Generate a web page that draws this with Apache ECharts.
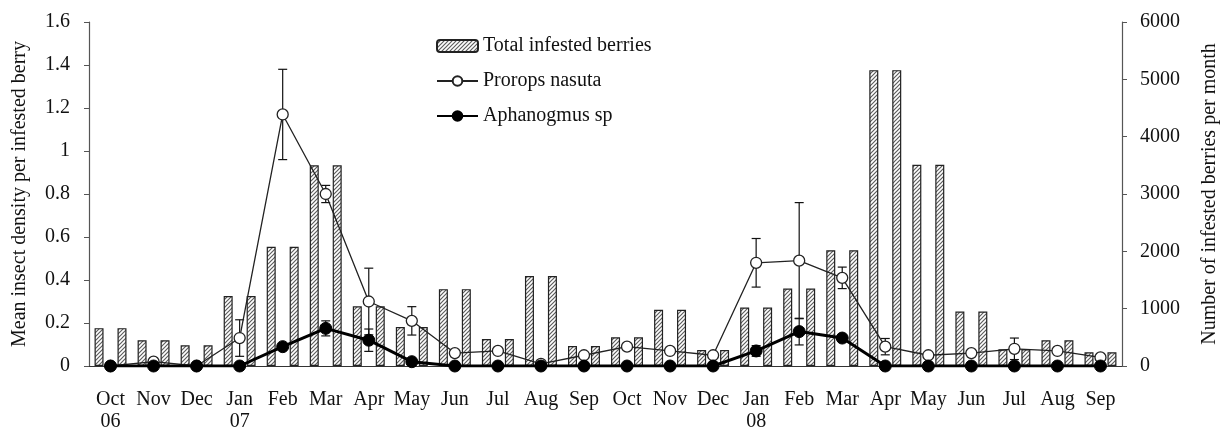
<!DOCTYPE html>
<html>
<head>
<meta charset="utf-8">
<script src="https://cdn.jsdelivr.net/npm/echarts@6/dist/echarts.min.js"></script>
<style>
html,body{margin:0;padding:0;background:#fff;}
#chart{width:1220px;height:430px;}
</style>
</head>
<body>
<div id="chart"></div>
<script>
// ---- data ----
const months = ['Oct\n06','Nov','Dec','Jan\n07','Feb','Mar','Apr','May','Jun','Jul','Aug','Sep',
                'Oct','Nov','Dec','Jan\n08','Feb','Mar','Apr','May','Jun','Jul','Aug','Sep'];
const totalBerries = [660,450,360,1220,2080,3500,1040,680,1340,470,1570,350,
                      500,980,280,1020,1350,2020,5160,3510,950,290,450,240];
const prorops = [0,0.02,0,0.13,1.17,0.80,0.30,0.21,0.06,0.07,0.01,0.05,
                 0.09,0.07,0.05,0.48,0.49,0.41,0.09,0.05,0.06,0.08,0.07,0.04];
const proropsErr = [0,0,0,0.085,0.21,0.04,0.155,0.066,0,0,0,0,
                    0,0,0,0.113,0.27,0.05,0.038,0,0,0.05,0,0];
const aphanogmus = [0,0,0,0,0.09,0.175,0.12,0.02,0,0,0,0,
                    0,0,0,0.07,0.16,0.13,0,0,0,0,0,0];
const aphanogmusErr = [0,0,0,0,0,0.035,0.052,0,0,0,0,0,
                       0,0,0,0.025,0.062,0,0,0,0,0,0,0];
const leftTicks = {min:0, max:1.6, interval:0.2};
const rightTicks = {min:0, max:6000, interval:1000};

// ---- hatch pattern ----
function hatch(){
  const c = document.createElement('canvas');
  const s = 4;
  c.width = s; c.height = s;
  const g = c.getContext('2d');
  g.fillStyle = '#fff'; g.fillRect(0,0,s,s);
  g.strokeStyle = '#5e5e5e'; g.lineWidth = 1.2;
  g.beginPath();
  g.moveTo(0,s); g.lineTo(s,0);
  g.moveTo(-1,1); g.lineTo(1,-1);
  g.moveTo(s-1,s+1); g.lineTo(s+1,s-1);
  g.stroke();
  return c;
}
const hatchFill = {image: hatch(), repeat: 'repeat'};

function errData(vals, errs){
  const out = [];
  vals.forEach((v,i)=>{ if(errs[i]>0) out.push([i, v-errs[i], v+errs[i]]); });
  return out;
}
function errRender(params, api){
  const x = api.coord([api.value(0), api.value(1)]);
  const y2 = api.coord([api.value(0), api.value(2)]);
  const w = 4.5;
  const st = {stroke:'#111', lineWidth:1.2};
  return {type:'group', children:[
    {type:'line', shape:{x1:x[0],y1:x[1],x2:y2[0],y2:y2[1]}, style:st},
    {type:'line', shape:{x1:x[0]-w,y1:x[1],x2:x[0]+w,y2:x[1]}, style:st},
    {type:'line', shape:{x1:y2[0]-w,y1:y2[1],x2:y2[0]+w,y2:y2[1]}, style:st}
  ]};
}

const FONT = 'Liberation Serif';
const axisCol = '#555';
const chart = echarts.init(document.getElementById('chart'));
chart.setOption({
  animation:false,
  backgroundColor:'#fff',
  textStyle:{fontFamily:FONT, color:'#111'},
  grid:{left:89, right:98, top:22, bottom:64, outerBoundsMode:'none', containLabel:false},
  legend:{
    orient:'vertical', left:431, top:31,
    itemWidth:41, itemHeight:12, itemGap:15,
    textStyle:{fontFamily:FONT, fontSize:20, color:'#111'},
    data:['Total infested berries','Prorops nasuta','Aphanogmus sp']
  },
  xAxis:{
    type:'category', data:months,
    axisLine:{lineStyle:{color:'#333', width:1.2}},
    axisTick:{interval:0, length:6, lineStyle:{color:axisCol}},
    axisLabel:{interval:0, fontSize:20, lineHeight:22, margin:23, color:'#111', fontFamily:FONT}
  },
  yAxis:[{
    type:'value', min:leftTicks.min, max:leftTicks.max, interval:leftTicks.interval,
    name:'Mean insect density per infested berry', nameLocation:'middle', nameGap:59,
    nameTextStyle:{fontSize:20, fontFamily:FONT, color:'#111'},
    axisLine:{show:true, lineStyle:{color:axisCol, width:1.2}},
    axisTick:{show:true, length:5, lineStyle:{color:axisCol}},
    axisLabel:{fontSize:20, margin:19, color:'#111', fontFamily:FONT},
    splitLine:{show:false}
  },{
    type:'value', min:rightTicks.min, max:rightTicks.max, interval:rightTicks.interval,
    name:'Number of infested berries per month', nameLocation:'middle', nameGap:78,
    nameTextStyle:{fontSize:20, fontFamily:FONT, color:'#111'},
    axisLine:{show:true, lineStyle:{color:axisCol, width:1.2}},
    axisTick:{show:true, length:5, lineStyle:{color:axisCol}},
    axisLabel:{fontSize:20, margin:18, color:'#111', fontFamily:FONT,
               formatter:function(v){return String(v);}},
    splitLine:{show:false}
  }],
  series:[
    {name:'Total infested berries', type:'bar', yAxisIndex:1, data:totalBerries,
     barWidth:9, barGap:'155%', z:1,
     itemStyle:{color:hatchFill, borderColor:'#222', borderWidth:1.2}},
    {name:'Total infested berries', type:'bar', yAxisIndex:1, data:totalBerries,
     barWidth:9, barGap:'155%', z:1,
     itemStyle:{color:hatchFill, borderColor:'#222', borderWidth:1.2}},
    {name:'Prorops err', type:'custom', yAxisIndex:0, data:errData(prorops, proropsErr),
     renderItem:errRender, z:2, silent:true},
    {name:'Prorops nasuta', type:'line', yAxisIndex:0, data:prorops, z:3,
     symbol:'circle', symbolSize:11,
     lineStyle:{color:'#222', width:1.3},
     itemStyle:{color:'#fff', borderColor:'#222', borderWidth:1.3}},
    {name:'Aphanogmus err', type:'custom', yAxisIndex:0, data:errData(aphanogmus, aphanogmusErr),
     renderItem:errRender, z:4, silent:true},
    {name:'Aphanogmus sp', type:'line', yAxisIndex:0, data:aphanogmus, z:5,
     symbol:'circle', symbolSize:12,
     lineStyle:{color:'#000', width:3},
     itemStyle:{color:'#000', borderColor:'#000', borderWidth:1}}
  ]
});
</script>
</body>
</html>
